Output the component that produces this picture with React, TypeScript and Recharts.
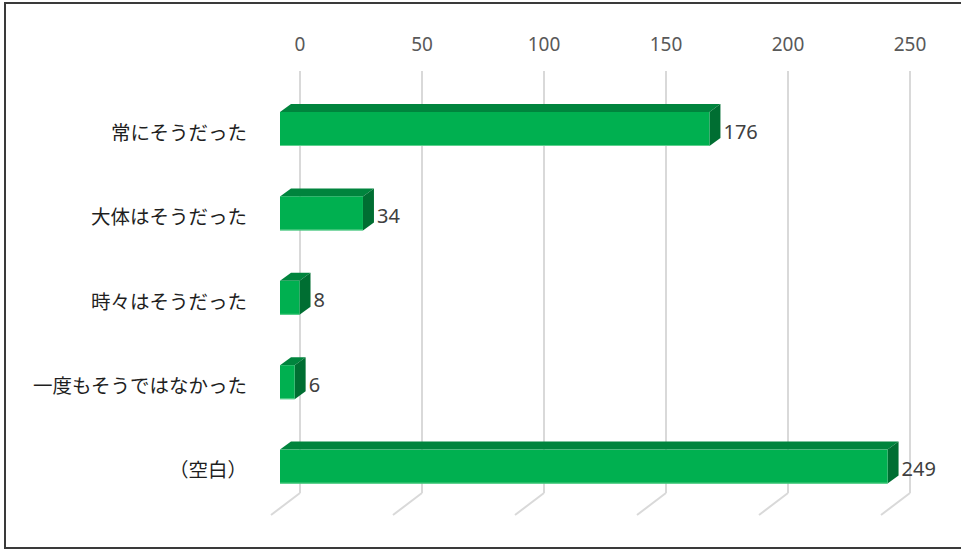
import { BarChart, Bar, XAxis, YAxis, LabelList, CartesianGrid } from "recharts";

const categories = ["常にそうだった", "大体はそうだった", "時々はそうだった", "一度もそうではなかった", "（空白）"];
const counts = [176, 34, 8, 6, 249];
const xTicks = [0, 50, 100, 150, 200, 250];

const data = categories.map((name, i) => ({ name, value: counts[i] }));

const FRONT = "#00B050";
const TOP = "#00843D";
const SIDE = "#006E32";
const GRID = "#D9D9D9";

// 3D offsets
const DEPTH_X = 11;
const DEPTH_Y = 8;
const WALL_X = 20;
const GRID_TOP = 71;
const GRID_BOTTOM = 493;

const NUM_FONT = "'Noto Sans', sans-serif";
const JP_FONT = "'Noto Sans CJK JP', sans-serif";

function XTick(props: any) {
  const { x, payload } = props;
  const bx = x + WALL_X;
  return (
    <g>
      <line x1={bx} y1={GRID_BOTTOM} x2={bx - 29} y2={GRID_BOTTOM + 22} stroke={GRID} strokeWidth={2} />
      <text x={bx} y={44} textAnchor="middle" dominantBaseline="central" fontSize={19} fill="#595959" fontFamily={NUM_FONT}>
        {payload.value}
      </text>
    </g>
  );
}

function GridLine(props: any) {
  const x = props.x1 + WALL_X;
  return <line x1={x} y1={GRID_TOP} x2={x} y2={GRID_BOTTOM} stroke={GRID} strokeWidth={2} />;
}

function YTick(props: any) {
  const { y, payload } = props;
  return (
    <text x={247} y={y + 2} textAnchor="end" dominantBaseline="central" fontSize={19.5} fill="#1f1f1f" fontFamily={JP_FONT}>
      {payload.value}
    </text>
  );
}

function Box3D(props: any) {
  const { x, y, width, height } = props;
  const r = x + width;
  return (
    <g>
      <polygon
        points={`${x},${y} ${x + DEPTH_X},${y - DEPTH_Y} ${r + DEPTH_X},${y - DEPTH_Y} ${r},${y}`}
        fill={TOP}
      />
      <polygon
        points={`${r},${y} ${r + DEPTH_X},${y - DEPTH_Y} ${r + DEPTH_X},${y + height - DEPTH_Y} ${r},${y + height}`}
        fill={SIDE}
      />
      <rect x={x} y={y} width={width} height={height} fill={FRONT} />
      <line x1={x} y1={y + height - 0.5} x2={r} y2={y + height - 0.5} stroke="#5ED08E" strokeWidth={1} />
    </g>
  );
}

function ValueLabel(props: any) {
  const { x, y, width, height, value } = props;
  return (
    <text
      x={x + width + DEPTH_X + 3}
      y={y + height / 2 + 2}
      dominantBaseline="central"
      fontSize={20}
      fill="#404040"
      fontFamily={NUM_FONT}
    >
      {value}
    </text>
  );
}

export default function App() {
  return (
    <div style={{ position: "absolute", left: 0, top: 0, width: 961, height: 549, overflow: "hidden", background: "#fff" }}>
      <div
        style={{
          position: "absolute",
          left: 4,
          top: 2,
          width: 960,
          height: 543,
          borderLeft: "2px solid #3a3a3a",
          borderTop: "2px solid #3a3a3a",
          borderBottom: "2px solid #3a3a3a",
        }}
      />
      <div style={{ position: "absolute", left: 0, top: 0 }}>
        <BarChart
          width={961}
          height={549}
          data={data}
          layout="vertical"
          margin={{ top: 57, right: 71, bottom: 40, left: 0 }}
        >
          <CartesianGrid horizontal={false} vertical={<GridLine />} />
          <XAxis
            type="number"
            orientation="top"
            domain={[0, 250]}
            ticks={xTicks}
            height={30}
            axisLine={false}
            tickLine={false}
            tick={<XTick />}
          />
          <YAxis
            type="category"
            dataKey="name"
            width={280}
            axisLine={false}
            tickLine={false}
            tick={<YTick />}
            interval={0}
          />
          <Bar dataKey="value" barSize={34} shape={<Box3D />} isAnimationActive={false}>
            <LabelList dataKey="value" content={<ValueLabel />} />
          </Bar>
        </BarChart>
      </div>
    </div>
  );
}
